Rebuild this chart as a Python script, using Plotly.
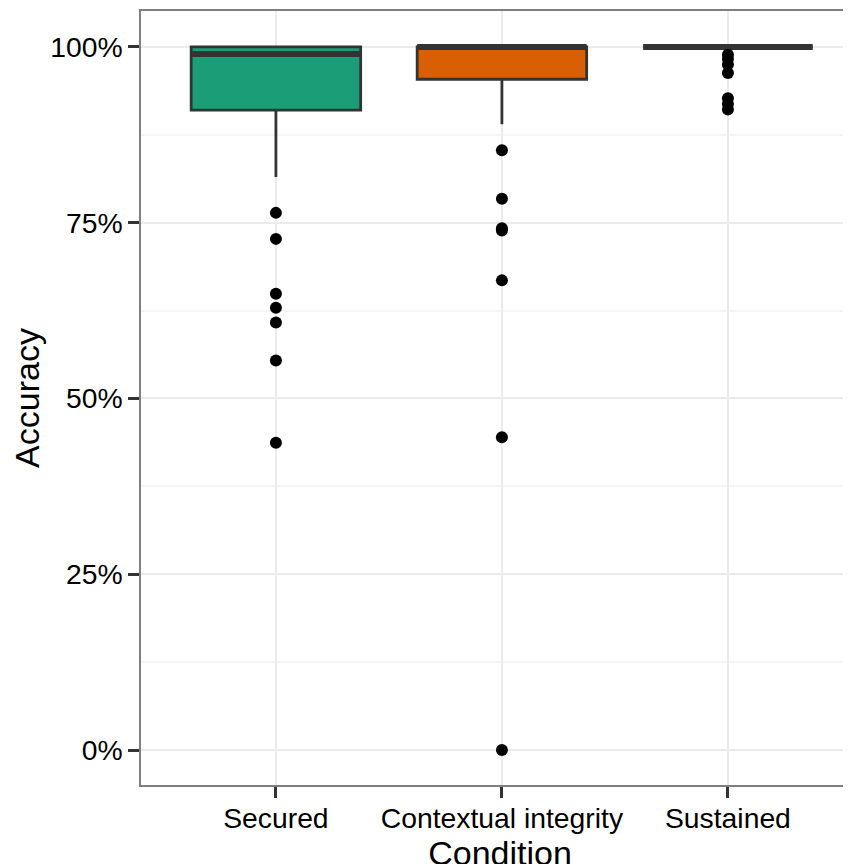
import plotly.graph_objects as go

# ---- data ----
categories = ["Secured", "Contextual integrity", "Sustained"]
colors = ["#1b9e77", "#d95f02", "#ffffff"]
q1 = [91.0, 95.4, 100.0]
median = [99.0, 100.0, 100.0]
q3 = [100.0, 100.0, 100.0]
lower_whisker = [81.5, 89.0, 100.0]
upper_whisker = [100.0, 100.0, 100.0]
outliers_secured = [76.4, 72.7, 64.9, 62.9, 60.8, 55.4, 43.7]
outliers_contextual = [85.3, 78.4, 74.2, 73.9, 66.8, 44.5, 0.0]
outliers_sustained = [98.9, 98.3, 97.5, 96.3, 92.7, 91.9, 91.1]
outliers = [outliers_secured, outliers_contextual, outliers_sustained]
y_tick_vals = [0, 25, 50, 75, 100]
y_tick_text = ["0%", "25%", "50%", "75%", "100%"]

positions = list(range(len(categories)))
box_width = 0.75

fig = go.Figure()
for i, cat in enumerate(categories):
    fig.add_trace(go.Box(
        x=[positions[i]], q1=[q1[i]], median=[median[i]], q3=[q3[i]],
        lowerfence=[lower_whisker[i]], upperfence=[upper_whisker[i]],
        width=box_width, fillcolor=colors[i],
        line=dict(color="#333333", width=2.8), whiskerwidth=0,
        boxpoints=False, showlegend=False, hoverinfo="skip",
    ))
    # thicker median line, like ggplot's fattened median
    fig.add_trace(go.Scatter(
        x=[positions[i] - box_width / 2, positions[i] + box_width / 2],
        y=[median[i], median[i]], mode="lines",
        line=dict(color="#333333", width=6), showlegend=False, hoverinfo="skip",
    ))
    fig.add_trace(go.Scatter(
        x=[positions[i]] * len(outliers[i]), y=outliers[i], mode="markers",
        marker=dict(color="black", size=12), showlegend=False,
    ))

font_family = "Liberation Sans, Arial, Helvetica, sans-serif"
fig.update_layout(
    width=851, height=864,
    margin=dict(l=133, r=0, t=3, b=87),
    paper_bgcolor="white", plot_bgcolor="white",
    font=dict(family=font_family, color="black"),
    xaxis=dict(
        range=[-0.597, 2.580], tickvals=positions, ticktext=categories,
        tickfont=dict(size=28.3, color="black"), ticklabelstandoff=-4,
        ticks="outside", ticklen=11, tickwidth=2.5, tickcolor="#333333",
        showgrid=True, gridcolor="#ebebeb", gridwidth=1.5, zeroline=False,
        showline=True, mirror=True, linecolor="#7f7f7f", linewidth=1.5,
        title=dict(text="Condition", font=dict(size=34, color="black"), standoff=4),
        automargin=False,
    ),
    yaxis=dict(
        range=[-4.97, 105.11], tickvals=y_tick_vals, ticktext=y_tick_text,
        tickfont=dict(size=28.3, color="black"),
        ticks="outside", ticklen=11, tickwidth=2.5, tickcolor="#333333",
        showgrid=True, gridcolor="#ebebeb", gridwidth=1.5, zeroline=False,
        showline=True, mirror=False, linecolor="#7f7f7f", linewidth=1.5,
        minor=dict(tick0=12.5, dtick=25, showgrid=True, gridcolor="#f5f5f5",
                   gridwidth=1.5, ticks=""),
        title=dict(text="Accuracy", font=dict(size=34, color="black"), standoff=10),
        automargin=False,
    ),
)

fig.write_html("out.html")
